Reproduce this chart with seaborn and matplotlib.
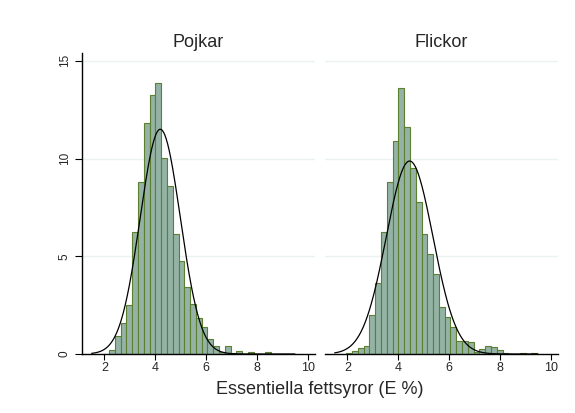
import numpy as np
import pandas as pd
import matplotlib
matplotlib.use("Agg")
import matplotlib.pyplot as plt
import seaborn as sns

# common bins (start, width, count)
bin_start = 1.96
bin_width = 0.2277
n_bins = 33

# percent per bin
pojkar_pct = [0, 0.2, 0.92, 1.57, 2.5, 6.26, 8.79, 11.8, 13.26, 13.86, 10.02,
              8.6, 6.13, 4.76, 3.45, 2.54, 1.83, 1.37, 0.75, 0.4, 0.1, 0.43,
              0.07, 0.14, 0, 0.09, 0, 0, 0.09, 0, 0, 0, 0]
flickor_pct = [0.07, 0.17, 0.29, 0.41, 2.0, 3.62, 6.26, 8.82, 10.9, 13.63, 11.6,
               9.5, 7.76, 6.16, 5.1, 4.08, 2.39, 1.91, 1.4, 0.68, 0.65, 0.63,
               0.12, 0.28, 0.4, 0.37, 0.22, 0.05, 0, 0, 0.05, 0, 0.05]

# normal overlay parameters (mean, sd)
pojkar_norm = (4.2, 0.79)
flickor_norm = (4.45, 0.92)

titles = ["Pojkar", "Flickor"]
xticks = [2, 4, 6, 8, 10]
yticks = [0, 5, 10, 15]

sns.set_style("white")
plt.rcParams["font.family"] = ["Liberation Sans", "DejaVu Sans"]

fig = plt.figure(figsize=(5.75, 4.13), dpi=100)
W, H = 575, 413
ax1 = fig.add_axes([82 / W, 59 / H, 233 / W, 301 / H])
ax2 = fig.add_axes([325 / W, 59 / H, 233 / W, 301 / H])

edges = [bin_start + bin_width * i for i in range(n_bins + 1)]
centers = [e + bin_width / 2 for e in edges[:-1]]
xs = np.linspace(1.5, 9.5, 400)

for ax, pct, (mu, sd), title in zip([ax1, ax2], [pojkar_pct, flickor_pct],
                                    [pojkar_norm, flickor_norm], titles):
    for yv in [5, 10, 15]:
        ax.axhline(yv, color="#eaf2f3", lw=1.0, zorder=0)
    df = pd.DataFrame({"x": centers, "w": pct})
    sns.histplot(data=df, x="x", weights="w", bins=edges, ax=ax,
                 color="#94b3a6", edgecolor="#5d7f30", linewidth=0.8,
                 alpha=1, zorder=2)
    dens = 100 * bin_width * np.exp(-0.5 * ((xs - mu) / sd) ** 2) / (sd * np.sqrt(2 * np.pi))
    ax.plot(xs, dens, color="black", lw=0.9, zorder=3)
    ax.set_xlim(1.12, 10.29)
    ax.set_ylim(0, 15.4)
    ax.set_xticks(xticks)
    ax.set_xticklabels([str(t) for t in xticks], fontsize=9)
    ax.set_ylabel("")
    ax.set_xlabel("")
    ax.set_title(title, fontsize=13, pad=4)
    for s in ["top", "right"]:
        ax.spines[s].set_visible(False)
    ax.spines["bottom"].set_color("black")
    ax.spines["bottom"].set_linewidth(1.0)
    ax.tick_params(axis="x", direction="out", length=4, width=0.8, color="black", pad=2,
                   bottom=True)

ax1.set_yticks(yticks)
ax1.set_yticklabels([str(t) for t in yticks], fontsize=8.5, rotation=90, va="center")
ax1.tick_params(axis="y", direction="out", length=5, width=0.8, color="black", pad=3,
                left=True)
ax1.spines["left"].set_color("black")
ax1.spines["left"].set_linewidth(1.0)
ax2.set_yticks([])
ax2.spines["left"].set_visible(False)

fig.text(320 / W, 1 - 390 / H, "Essentiella fettsyror (E %)", ha="center",
         va="center", fontsize=13)

fig.savefig("out.png", dpi=100, facecolor="white")
